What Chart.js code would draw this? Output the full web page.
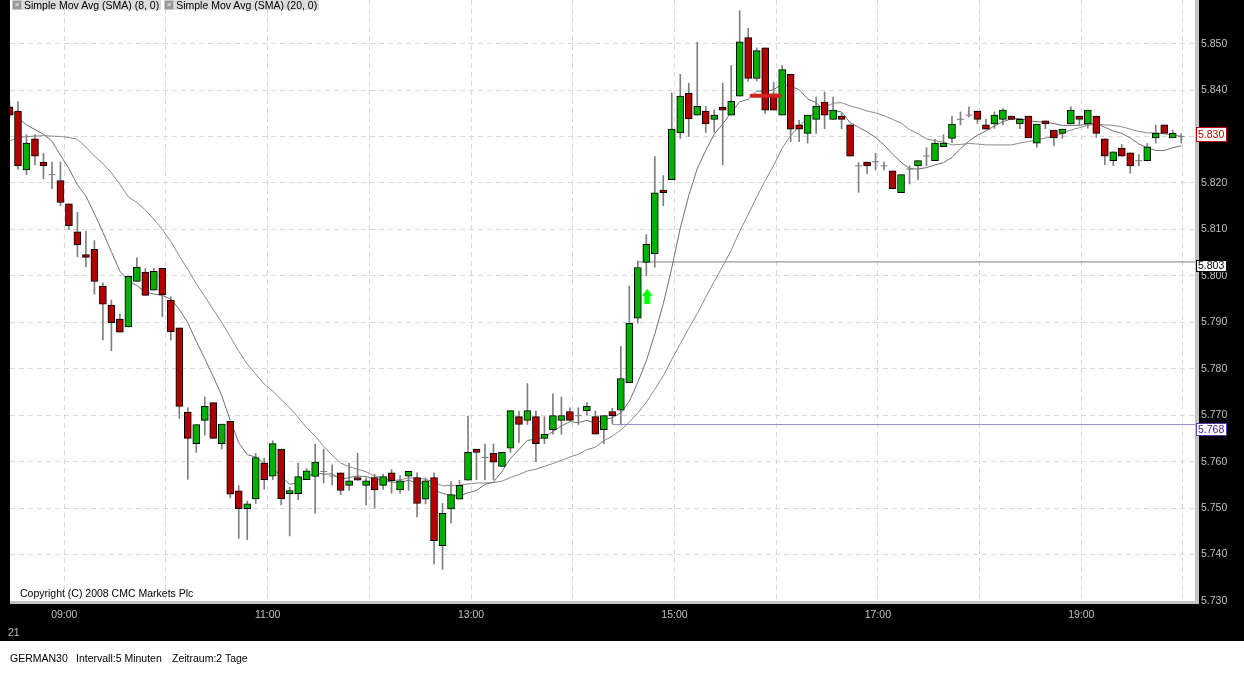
<!DOCTYPE html>
<html>
<head>
<meta charset="utf-8">
<title>GERMAN30 5 Minuten</title>
<script src="https://cdn.jsdelivr.net/npm/chart.js@4.4.1/dist/chart.umd.min.js"></script>
<style>
html,body{margin:0;padding:0;background:#000;}
#wrap{position:relative;width:1244px;height:675px;overflow:hidden;background:#000;font-family:"Liberation Sans",Arial,sans-serif;}
#c{position:absolute;left:0;top:0;}
.legend{position:absolute;left:12px;top:0;height:10px;display:flex;}
.item{display:flex;align-items:center;height:10px;background:#dcdcdc;padding-right:2px;margin-right:3px;font-size:10.5px;line-height:10px;color:#000;white-space:nowrap;}
.ic{width:8px;height:8px;background:#9a9a9a;border:1px solid #c8c8c8;color:#fff;font-size:8px;line-height:8px;text-align:center;margin-right:2px;box-sizing:content-box;}
.copy{position:absolute;left:20px;top:587px;font-size:10.5px;color:#000;}
.day{position:absolute;left:8px;top:626px;font-size:10.5px;color:#c0c0c0;}
.foot{position:absolute;top:652px;font-size:10.5px;color:#000;white-space:nowrap;}
</style>
</head>
<body>
<div id="wrap">
<canvas id="c" width="1244" height="675"></canvas>
<div class="legend">
  <div class="item"><span class="ic">&#215;</span>Simple Mov Avg (SMA) (8, 0)</div>
  <div class="item"><span class="ic">&#215;</span>Simple Mov Avg (SMA) (20, 0)</div>
</div>
<div class="copy">Copyright (C) 2008 CMC Markets Plc</div>
<div class="day">21</div>
<div class="foot" style="left:10px">GERMAN30</div>
<div class="foot" style="left:76px">Intervall:5 Minuten</div>
<div class="foot" style="left:172px">Zeitraum:2 Tage</div>
</div>
<script>
// ---- data (5-minute candles, index 0 = first visible bar) ----
const open = [5836.4,5835.5,5822.8,5829.5,5824.5,5821.8,5820.5,5815.5,5809.5,5804.6,
5805.7,5797.8,5793.7,5790.7,5789.0,5798.8,5800.8,5796.9,5801.6,5794.8,
5788.8,5770.7,5763.9,5768.9,5772.7,5763.9,5768.7,5753.7,5749.9,5752.0,
5759.7,5756.9,5762.7,5753.1,5753.1,5756.1,5756.8,5757.9,5756.9,5757.6,
5754.9,5756.6,5754.9,5756.6,5754.9,5757.6,5753.9,5756.9,5756.6,5751.9,
5756.6,5741.9,5749.8,5751.9,5756.0,5762.7,5760.9,5761.8,5759.0,5762.9,
5769.7,5768.9,5769.7,5765.0,5766.9,5768.9,5770.8,5769.9,5771.0,5769.7,
5766.9,5770.8,5771.1,5777.0,5790.9,5802.9,5804.8,5818.5,5820.7,5830.8,
5839.3,5834.6,5835.5,5833.7,5836.3,5834.6,5838.7,5851.3,5842.5,5849.1,
5839.2,5834.6,5843.4,5832.5,5830.7,5833.7,5837.4,5833.7,5834.4,5832.5,
5823.7,5824.5,5824.6,5823.7,5822.6,5817.9,5823.0,5823.7,5825.8,5824.8,
5827.8,5829.6,5833.7,5834.6,5835.5,5832.5,5832.7,5833.7,5834.4,5832.7,
5834.4,5828.6,5833.4,5831.4,5830.7,5832.7,5834.4,5832.7,5834.4,5829.5,
5824.8,5827.5,5826.5,5824.8,5824.8,5829.7,5832.5,5829.7,5830.0];
const high = [5837.5,5837.5,5830.4,5830.4,5826.4,5824.5,5824.5,5815.5,5813.7,5809.6,
5807.6,5798.5,5794.8,5791.8,5799.9,5803.9,5801.6,5801.6,5801.6,5795.5,
5788.8,5771.6,5768.0,5773.9,5772.7,5768.1,5768.7,5754.8,5751.5,5761.8,
5760.7,5764.5,5762.7,5754.5,5759.7,5758.5,5763.8,5762.7,5759.3,5757.6,
5759.7,5761.8,5756.5,5757.3,5757.3,5758.3,5757.0,5757.9,5757.6,5756.5,
5757.6,5751.0,5755.7,5756.0,5769.8,5762.7,5763.8,5763.8,5762.0,5771.0,
5770.9,5776.8,5770.9,5769.7,5774.6,5773.9,5771.6,5771.6,5772.7,5770.9,
5769.9,5771.5,5784.8,5797.8,5803.2,5808.9,5825.7,5821.6,5839.4,5843.4,
5841.5,5850.3,5836.5,5835.7,5841.5,5845.3,5857.1,5853.3,5849.1,5849.1,
5841.7,5845.3,5843.4,5833.5,5834.6,5838.5,5839.6,5838.5,5835.0,5832.5,
5824.4,5824.5,5826.4,5824.5,5822.6,5821.8,5823.7,5824.8,5827.6,5829.4,
5830.4,5834.4,5835.3,5836.4,5835.5,5833.7,5835.3,5836.0,5834.4,5833.7,
5834.4,5832.7,5833.4,5831.4,5831.6,5836.4,5834.4,5835.7,5834.4,5829.5,
5826.7,5828.3,5826.5,5826.1,5828.5,5832.5,5832.5,5831.4,5830.6];
const low = [5834.0,5823.0,5821.8,5823.9,5820.9,5818.8,5815.1,5810.0,5804.1,5802.0,
5796.1,5786.2,5783.9,5787.9,5789.0,5798.8,5795.8,5796.9,5791.2,5786.2,
5769.3,5756.2,5762.0,5765.7,5765.0,5762.7,5752.2,5743.5,5743.2,5751.0,
5754.1,5756.1,5750.7,5744.0,5751.8,5756.1,5748.9,5755.4,5755.0,5752.9,
5753.8,5756.0,5750.7,5750.0,5754.0,5753.2,5753.2,5753.8,5748.1,5750.9,
5738.0,5736.8,5746.8,5751.9,5756.0,5756.1,5756.1,5756.1,5759.0,5762.0,
5764.1,5768.0,5760.0,5763.9,5765.9,5765.9,5768.9,5768.0,5770.0,5765.9,
5763.9,5768.2,5767.9,5777.0,5789.8,5800.0,5801.9,5815.1,5820.7,5829.6,
5830.0,5834.6,5830.9,5830.9,5823.9,5834.6,5838.7,5841.9,5842.0,5835.0,
5835.7,5834.6,5828.9,5828.9,5828.6,5830.7,5831.7,5833.7,5831.7,5825.8,
5818.0,5822.0,5822.8,5822.8,5818.8,5817.9,5819.8,5820.7,5823.7,5824.8,
5827.8,5828.7,5832.5,5834.2,5832.8,5831.6,5831.8,5832.5,5833.7,5831.7,
5829.7,5827.7,5831.7,5828.0,5829.6,5832.7,5832.5,5831.8,5829.8,5823.9,
5823.7,5825.8,5822.1,5823.7,5824.8,5828.6,5830.7,5829.7,5828.6];
const close = [5834.6,5823.7,5828.6,5825.8,5823.7,5821.8,5815.8,5810.8,5806.7,5804.0,
5798.8,5793.9,5789.9,5787.9,5799.9,5801.9,5795.8,5801.0,5795.9,5788.0,
5771.9,5765.0,5768.0,5771.9,5765.0,5768.1,5753.0,5749.9,5750.9,5760.9,
5756.1,5763.9,5752.0,5753.8,5756.8,5758.0,5759.9,5757.9,5756.9,5753.8,
5755.9,5756.0,5755.9,5753.9,5756.8,5755.9,5755.9,5757.9,5751.0,5755.9,
5743.0,5748.9,5752.9,5754.9,5762.0,5762.0,5760.9,5759.9,5762.0,5771.0,
5768.0,5771.0,5763.9,5765.9,5769.9,5769.9,5768.9,5769.9,5771.9,5765.9,
5769.9,5769.9,5777.9,5789.8,5801.8,5806.8,5817.9,5817.9,5831.6,5838.7,
5833.8,5836.5,5832.7,5834.6,5835.7,5837.6,5850.4,5842.5,5848.5,5835.7,
5835.7,5844.4,5831.6,5831.6,5834.6,5836.5,5834.6,5835.7,5833.7,5825.8,
5823.7,5823.7,5824.6,5823.7,5818.8,5821.8,5823.0,5824.8,5825.8,5828.6,
5828.6,5832.7,5833.7,5834.6,5833.7,5831.6,5834.6,5835.7,5833.7,5833.7,
5829.7,5832.7,5832.7,5829.7,5831.6,5835.7,5833.7,5835.7,5830.7,5825.8,
5826.7,5825.8,5823.7,5824.8,5827.8,5830.7,5830.7,5830.7,5830.0];
const sma8 = [5836.0,5834.0,5832.5,5831.5,5830.5,5829.0,5826.0,5823.1,5819.6,5817.2,
5813.4,5809.4,5805.2,5801.0,5799.0,5797.9,5796.5,5796.1,5795.8,5795.0,
5792.8,5789.9,5785.9,5782.2,5778.3,5774.2,5768.9,5764.1,5761.5,5761.0,
5759.5,5758.5,5756.9,5755.1,5755.5,5756.6,5757.7,5757.3,5757.4,5756.1,
5756.6,5756.9,5756.8,5756.3,5755.9,5755.6,5755.5,5756.0,5755.4,5755.4,
5753.8,5753.2,5752.7,5752.6,5753.3,5753.8,5755.1,5755.6,5757.9,5760.7,
5762.6,5764.6,5764.8,5765.3,5766.5,5767.7,5768.6,5768.4,5768.9,5768.3,
5769.0,5769.5,5770.5,5773.0,5777.1,5781.7,5787.5,5794.0,5801.7,5810.3,
5817.3,5823.1,5827.0,5830.5,5832.7,5835.2,5837.5,5838.0,5839.8,5839.7,
5840.1,5841.3,5840.8,5840.1,5838.1,5837.3,5835.6,5835.6,5835.3,5833.0,
5832.0,5831.0,5829.8,5828.2,5826.2,5824.5,5823.1,5823.0,5823.3,5823.9,
5824.4,5825.5,5827.4,5829.0,5830.3,5831.2,5832.3,5833.2,5833.8,5833.9,
5833.4,5833.2,5833.1,5832.8,5832.4,5832.4,5832.4,5832.7,5832.8,5832.0,
5831.2,5830.7,5829.7,5828.4,5827.6,5827.0,5827.0,5827.6,5828.0];
const sma20 = [5829.0,5829.8,5830.0,5830.1,5830.2,5830.1,5830.0,5829.8,5829.4,5827.7,
5825.8,5824.2,5822.2,5819.7,5817.0,5815.8,5814.2,5812.2,5810.0,5807.4,
5804.3,5801.4,5798.3,5795.6,5792.7,5790.0,5786.9,5783.8,5781.0,5778.9,
5776.7,5775.2,5773.4,5771.6,5769.5,5767.3,5765.5,5763.3,5761.4,5759.7,
5758.9,5758.4,5757.8,5756.9,5756.5,5755.9,5756.1,5756.5,5756.5,5756.2,
5755.6,5754.8,5754.9,5754.9,5755.2,5755.4,5755.4,5755.5,5755.8,5756.6,
5757.2,5758.0,5758.4,5759.0,5759.6,5760.3,5761.0,5761.6,5762.6,5763.1,
5764.5,5765.5,5766.8,5768.5,5770.5,5772.8,5775.6,5778.5,5782.0,5785.4,
5788.7,5791.9,5795.4,5798.8,5802.1,5805.5,5809.6,5813.2,5817.0,5820.5,
5823.8,5827.5,5830.2,5832.3,5833.9,5835.4,5836.3,5837.2,5837.3,5836.6,
5836.1,5835.5,5835.1,5834.5,5833.7,5832.9,5831.5,5830.6,5829.5,5829.1,
5828.8,5828.2,5828.3,5828.5,5828.4,5828.2,5828.2,5828.2,5828.2,5828.6,
5828.9,5829.3,5829.7,5830.0,5830.7,5831.4,5831.9,5832.4,5832.7,5832.5,
5832.4,5832.1,5831.6,5831.1,5830.8,5830.8,5830.6,5830.3,5830.1];
// hour grid positions (in bar-index units) and their labels
const hourTicks = [6.45,18.43,30.41,42.38,54.36,66.34,78.32,90.29,102.27,114.25,126.23,138.2];
const hourLabels = ['09:00','','11:00','','13:00','','15:00','','17:00','','19:00',''];
const priceTicks = [5730,5740,5750,5760,5770,5780,5790,5800,5810,5820,5830,5840,5850];
const cutTick = 5860; // label cut off by the top edge
// horizontal level lines: price and bar index where they start
const levelPrices = [5803, 5768];
const levelStarts = [73.9, 71.0];
const lastPrice = 5830;
// buy signal arrow and red order marker
const signalBar = [75.1];
const signalPrice = [5795.6];
const markerFrom = 87.4, markerTo = 90.7, markerPrice = 5838.8;

// ---- helpers ----
const fmt = v => (v/1000).toFixed(3);
const X_MIN = 0.059, X_MAX = 139.74;
const Y_MIN = 5730, Y_MAX = 5859.4;
const bars = close.map((_, i) => i);

function arrowCanvas(){
  const c = document.createElement('canvas');
  c.width = 11; c.height = 15;
  const g = c.getContext('2d');
  g.fillStyle = '#00ff00';
  g.beginPath();
  g.moveTo(5.5,0); g.lineTo(11,7); g.lineTo(8.5,7); g.lineTo(8.5,15);
  g.lineTo(2.5,15); g.lineTo(2.5,7); g.lineTo(0,7); g.closePath();
  g.fill();
  return c;
}

const FONT = {family:'"Liberation Sans", Arial, sans-serif', size:10.5};

const framePlugin = {
  id: 'frame',
  beforeDraw(chart){
    const {ctx, chartArea:a} = chart;
    ctx.save();
    ctx.fillStyle = '#000';
    ctx.fillRect(0,0,chart.width,chart.height);
    ctx.fillStyle = '#fff';
    ctx.fillRect(0,641,chart.width,chart.height-641);
    ctx.fillRect(a.left,a.top,a.right-a.left,a.bottom-a.top);
    ctx.restore();
  },
  afterDraw(chart){
    const {ctx, chartArea:a} = chart;
    const y = chart.scales.y;
    ctx.save();
    ctx.fillStyle = '#c4c4c4';
    ctx.fillRect(a.right - 1, 0, 4, a.bottom + 3);
    ctx.fillRect(a.left, a.bottom, a.right - a.left + 2, 3);
    ctx.font = '10.5px "Liberation Sans", Arial, sans-serif';
    ctx.textBaseline = 'middle';
    // partially visible top tick label
    ctx.fillStyle = '#c0c0c0';
    ctx.fillText(fmt(cutTick), a.right + 5, y.getPixelForValue(cutTick));
    const tag = (value, border, text, dy, h) => {
      const py = Math.round(y.getPixelForValue(value));
      const top = py + dy;
      ctx.fillStyle = '#fff';
      ctx.fillRect(a.right, top, 31, h);
      ctx.strokeStyle = border; ctx.lineWidth = 1;
      ctx.strokeRect(a.right + 0.5, top + 0.5, 30, h - 1);
      ctx.fillStyle = text;
      ctx.fillText(fmt(value), a.right + 2, top + h / 2 + 0.5);
    };
    tag(levelPrices[0], '#000000', '#000000', -2, 12);
    tag(levelPrices[1], '#5a3ca8', '#3c2090', -2, 13);
    tag(lastPrice, '#c00000', '#c00000', -10, 15);
    ctx.restore();
  }
};

const datasets = [
  {
    type:'bar', label:'wick', order:10, clip:0,
    data: bars.map(i => ({x:i, y:[low[i], high[i]]})),
    backgroundColor:'#7f7f7f', borderWidth:0, barThickness:1, grouped:false
  },
  {
    type:'bar', label:'up', order:3, clip:0,
    data: bars.filter(i => close[i] > open[i]).map(i => ({x:i, y:[open[i], close[i]]})),
    backgroundColor:'#00b000', borderColor:'#000', borderWidth:1, borderSkipped:false,
    barThickness:7, grouped:false
  },
  {
    type:'bar', label:'down', order:3, clip:0,
    data: bars.filter(i => close[i] < open[i]).map(i => ({x:i, y:[open[i], close[i]]})),
    backgroundColor:'#b00000', borderColor:'#000', borderWidth:1, borderSkipped:false,
    barThickness:7, grouped:false
  },
  {
    type:'scatter', label:'doji', order:2, clip:0,
    data: bars.filter(i => close[i] === open[i]).map(i => ({x:i, y:close[i]})),
    pointStyle:'line', pointRadius:3.5, borderColor:'#7f7f7f', borderWidth:1, backgroundColor:'#7f7f7f'
  },
  {
    type:'line', label:'Simple Mov Avg (SMA) (8, 0)', order:7, clip:0,
    data: bars.map(i => ({x:i, y:sma8[i]})),
    borderColor:'#707070', borderWidth:1, pointRadius:0, tension:0, fill:false
  },
  {
    type:'line', label:'Simple Mov Avg (SMA) (20, 0)', order:8, clip:0,
    data: bars.map(i => ({x:i, y:sma20[i]})),
    borderColor:'#8a8a8a', borderWidth:1, pointRadius:0, tension:0, fill:false
  },
  {
    type:'line', label:'level1', order:9, clip:0,
    data: [{x:levelStarts[0], y:levelPrices[0]}, {x:X_MAX, y:levelPrices[0]}],
    borderColor:'#808080', borderWidth:1, pointRadius:0
  },
  {
    type:'line', label:'level2', order:9, clip:0,
    data: [{x:levelStarts[1], y:levelPrices[1]}, {x:X_MAX, y:levelPrices[1]}],
    borderColor:'#9c8ccc', borderWidth:1, pointRadius:0
  },
  {
    type:'line', label:'marker', order:1, clip:0,
    data: [{x:markerFrom, y:markerPrice}, {x:markerTo, y:markerPrice}],
    borderColor:'#d42020', borderWidth:4, borderCapStyle:'round', pointRadius:0
  },
  {
    type:'scatter', label:'signal', order:1, clip:0,
    data: signalBar.map((b, k) => ({x:b, y:signalPrice[k]})),
    pointStyle: arrowCanvas(), pointRadius:6
  }
];

new Chart(document.getElementById('c'), {
  type:'bar',
  data:{datasets},
  plugins:[framePlugin],
  options:{
    responsive:false,
    devicePixelRatio:1,
    animation:false,
    events:[],
    layout:{autoPadding:false, padding:{left:10, top:0, right:0, bottom:0}},
    plugins:{legend:{display:false}, tooltip:{enabled:false}, title:{display:false}},
    scales:{
      x:{
        type:'linear', position:'bottom', min:X_MIN, max:X_MAX, offset:false,
        afterBuildTicks: s => { s.ticks = hourTicks.map(v => ({value:v})); },
        afterFit: s => { s.height = 74; s.paddingLeft = 0; s.paddingRight = 0; },
        grid:{color:'#d8d8d8', lineWidth:1, drawTicks:false, offset:false, borderDash:[5,4]},
        border:{display:false, dash:[5,4]},
        ticks:{
          autoSkip:false, maxRotation:0, minRotation:0, padding:8,
          color:'#c0c0c0', font:FONT,
          callback:(v, i) => hourLabels[i]
        }
      },
      y:{
        type:'linear', position:'right', min:Y_MIN, max:Y_MAX,
        afterBuildTicks: s => { s.ticks = priceTicks.map(v => ({value:v})); },
        afterFit: s => { s.width = 48; s.paddingTop = 0; s.paddingBottom = 0; },
        grid:{color:'#d8d8d8', lineWidth:1, drawTicks:false, borderDash:[5,4]},
        border:{display:false, dash:[5,4]},
        ticks:{padding:5, color:'#c0c0c0', font:FONT, callback: v => fmt(v)}
      }
    }
  }
});
</script>
</body>
</html>
